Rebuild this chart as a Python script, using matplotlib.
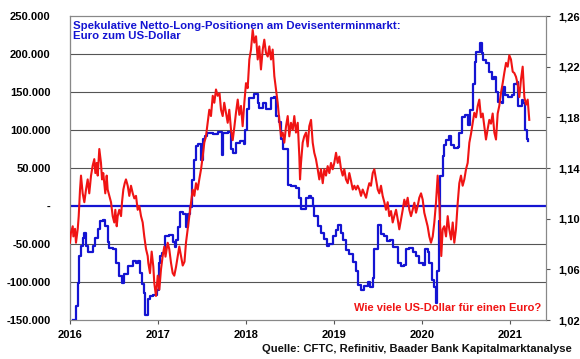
import numpy as np
import matplotlib
matplotlib.use("Agg")
import matplotlib.pyplot as plt
from matplotlib.ticker import FuncFormatter, FixedLocator

plt.rcParams['font.family'] = ['Liberation Sans', 'DejaVu Sans']

# speculative net long positions (contracts), weekly, x in decimal years
pos_t = [2016.031, 2016.068, 2016.088, 2016.106, 2016.125, 2016.144, 2016.163, 2016.182,
         2016.201, 2016.227, 2016.258, 2016.288, 2016.315, 2016.341, 2016.372, 2016.401,
         2016.428, 2016.447, 2016.485, 2016.523, 2016.560, 2016.588, 2016.617, 2016.656,
         2016.693, 2016.713, 2016.750, 2016.769, 2016.795, 2016.818, 2016.838, 2016.852,
         2016.883, 2016.909, 2016.947, 2016.985, 2017.006, 2017.023, 2017.045, 2017.074,
         2017.128, 2017.167, 2017.193, 2017.210, 2017.231, 2017.250, 2017.288, 2017.318,
         2017.341, 2017.364, 2017.383, 2017.413, 2017.432, 2017.458, 2017.489, 2017.511,
         2017.534, 2017.562, 2017.625, 2017.685, 2017.724, 2017.742, 2017.799, 2017.830,
         2017.852, 2017.886, 2017.932, 2017.972, 2017.989, 2018.006, 2018.038, 2018.094,
         2018.133, 2018.151, 2018.190, 2018.227, 2018.267, 2018.284, 2018.322, 2018.341,
         2018.378, 2018.398, 2018.417, 2018.455, 2018.474, 2018.511, 2018.568, 2018.599,
         2018.625, 2018.662, 2018.682, 2018.719, 2018.739, 2018.758, 2018.776, 2018.815,
         2018.852, 2018.890, 2018.917, 2018.947, 2018.985, 2019.023, 2019.051, 2019.080,
         2019.102, 2019.136, 2019.174, 2019.213, 2019.250, 2019.269, 2019.307, 2019.344,
         2019.383, 2019.409, 2019.440, 2019.458, 2019.497, 2019.534, 2019.572, 2019.602,
         2019.636, 2019.674, 2019.724, 2019.761, 2019.795, 2019.822, 2019.856, 2019.894,
         2019.932, 2019.969, 2020.008, 2020.038, 2020.064, 2020.083, 2020.114, 2020.140,
         2020.156, 2020.174, 2020.193, 2020.208, 2020.235, 2020.253, 2020.278, 2020.310,
         2020.330, 2020.364, 2020.406, 2020.426, 2020.451, 2020.489, 2020.526, 2020.545,
         2020.576, 2020.597, 2020.619, 2020.640, 2020.659, 2020.678, 2020.697, 2020.731,
         2020.767, 2020.790, 2020.813, 2020.843, 2020.867, 2020.906, 2020.924, 2020.943,
         2020.981, 2021.019, 2021.049, 2021.074, 2021.094, 2021.133, 2021.151, 2021.170,
         2021.190, 2021.201]
pos_k = [-150, -131, -101, -66, -53, -42, -35, -53, -61, -60, -53, -42, -30, -20, -18, -26,
         -48, -55, -57, -75, -92, -101, -90, -79, -79, -72, -75, -72, -88, -103, -114, -143,
         -122, -118, -117, -110, -75, -66, -62, -40, -38, -48, -54, -45, -27, -8, -10, -28,
         -10, -1, 34, 61, 79, 82, 60, 88, 92, 96, 95, 98, 67, 96, 98, 75, 70, 83, 86, 82,
         100, 128, 142, 148, 136, 129, 136, 127, 128, 142, 143, 118, 110, 88, 75, 75, 28, 26,
         24, 11, -4, -4, 11, 13, 11, 0, -13, -26, -35, -44, -52, -50, -40, -31, -25, -35,
         -45, -58, -63, -74, -85, -104, -110, -105, -100, -106, -95, -57, -25, -37, -40, -46,
         -45, -54, -75, -79, -78, -56, -55, -61, -66, -75, -77, -56, -60, -75, -97, -106,
         -128, -85, -20, 39, 66, 80, 87, 92, 80, 76, 77, 96, 117, 120, 106, 126, 160, 190,
         202, 203, 214, 201, 192, 188, 176, 167, 170, 150, 137, 135, 157, 146, 144, 146, 160,
         163, 132, 139, 136, 100, 88, 85]

# EUR/USD exchange rate
fx_t = [2016.000, 2016.011, 2016.031, 2016.038, 2016.057, 2016.068, 2016.088, 2016.099,
        2016.114, 2016.125, 2016.144, 2016.163, 2016.182, 2016.201, 2016.219, 2016.239,
        2016.258, 2016.276, 2016.288, 2016.303, 2016.315, 2016.333, 2016.352, 2016.364,
        2016.378, 2016.401, 2016.417, 2016.428, 2016.447, 2016.466, 2016.485, 2016.503,
        2016.515, 2016.531, 2016.542, 2016.560, 2016.580, 2016.591, 2016.606, 2016.622,
        2016.636, 2016.656, 2016.674, 2016.693, 2016.713, 2016.731, 2016.750, 2016.769,
        2016.788, 2016.807, 2016.826, 2016.844, 2016.864, 2016.883, 2016.890, 2016.909,
        2016.928, 2016.947, 2016.958, 2016.977, 2016.997, 2017.015, 2017.034, 2017.053,
        2017.072, 2017.085, 2017.110, 2017.128, 2017.148, 2017.167, 2017.185, 2017.205,
        2017.224, 2017.242, 2017.261, 2017.281, 2017.301, 2017.318, 2017.338, 2017.356,
        2017.375, 2017.394, 2017.413, 2017.432, 2017.451, 2017.469, 2017.489, 2017.508,
        2017.526, 2017.545, 2017.565, 2017.583, 2017.602, 2017.622, 2017.640, 2017.659,
        2017.678, 2017.699, 2017.716, 2017.735, 2017.753, 2017.773, 2017.792, 2017.810,
        2017.830, 2017.849, 2017.867, 2017.886, 2017.906, 2017.924, 2017.943, 2017.962,
        2017.981, 2018.000, 2018.019, 2018.038, 2018.057, 2018.076, 2018.094, 2018.114,
        2018.133, 2018.151, 2018.170, 2018.190, 2018.208, 2018.227, 2018.247, 2018.265,
        2018.284, 2018.303, 2018.322, 2018.341, 2018.360, 2018.378, 2018.398, 2018.417,
        2018.435, 2018.455, 2018.474, 2018.492, 2018.511, 2018.531, 2018.549, 2018.568,
        2018.588, 2018.606, 2018.614, 2018.625, 2018.644, 2018.662, 2018.682, 2018.701,
        2018.719, 2018.739, 2018.758, 2018.776, 2018.795, 2018.815, 2018.833, 2018.852,
        2018.872, 2018.890, 2018.909, 2018.928, 2018.947, 2018.966, 2018.985, 2019.003,
        2019.023, 2019.042, 2019.060, 2019.080, 2019.099, 2019.117, 2019.136, 2019.156,
        2019.174, 2019.193, 2019.213, 2019.231, 2019.250, 2019.269, 2019.288, 2019.307,
        2019.326, 2019.344, 2019.364, 2019.383, 2019.401, 2019.420, 2019.440, 2019.458,
        2019.477, 2019.497, 2019.515, 2019.534, 2019.553, 2019.572, 2019.591, 2019.610,
        2019.628, 2019.648, 2019.667, 2019.685, 2019.705, 2019.724, 2019.742, 2019.761,
        2019.781, 2019.799, 2019.818, 2019.837, 2019.856, 2019.875, 2019.894, 2019.913,
        2019.932, 2019.951, 2019.969, 2019.989, 2020.008, 2020.026, 2020.045, 2020.064,
        2020.083, 2020.102, 2020.122, 2020.140, 2020.159, 2020.178, 2020.197, 2020.208,
        2020.219, 2020.235, 2020.253, 2020.273, 2020.292, 2020.310, 2020.330, 2020.349,
        2020.367, 2020.386, 2020.406, 2020.424, 2020.443, 2020.462, 2020.481, 2020.500,
        2020.519, 2020.538, 2020.557, 2020.576, 2020.594, 2020.614, 2020.633, 2020.651,
        2020.670, 2020.690, 2020.708, 2020.727, 2020.747, 2020.765, 2020.784, 2020.803,
        2020.822, 2020.841, 2020.860, 2020.878, 2020.898, 2020.917, 2020.935, 2020.955,
        2020.974, 2020.992, 2021.011, 2021.031, 2021.049, 2021.068, 2021.088, 2021.106,
        2021.125, 2021.144, 2021.163, 2021.182, 2021.201, 2021.219]
fx = [1.081, 1.089, 1.094, 1.086, 1.092, 1.081, 1.092, 1.102, 1.123, 1.134, 1.120, 1.113,
      1.123, 1.131, 1.120, 1.134, 1.142, 1.147, 1.136, 1.144, 1.134, 1.155, 1.144, 1.131,
      1.136, 1.120, 1.134, 1.123, 1.118, 1.113, 1.102, 1.097, 1.107, 1.094, 1.102, 1.107,
      1.102, 1.113, 1.123, 1.128, 1.131, 1.126, 1.118, 1.126, 1.120, 1.116, 1.118, 1.107,
      1.110, 1.102, 1.097, 1.086, 1.076, 1.0705, 1.065, 1.057, 1.074, 1.062, 1.049, 1.039,
      1.055, 1.044, 1.060, 1.0705, 1.078, 1.070, 1.081, 1.076, 1.065, 1.057, 1.055, 1.062,
      1.0705, 1.078, 1.0705, 1.063, 1.066, 1.081, 1.092, 1.102, 1.113, 1.123, 1.118, 1.128,
      1.123, 1.131, 1.139, 1.149, 1.160, 1.165, 1.176, 1.186, 1.181, 1.197, 1.1915, 1.202,
      1.197, 1.199, 1.186, 1.181, 1.1915, 1.1836, 1.1757, 1.186, 1.170, 1.162, 1.172, 1.1836,
      1.194, 1.182, 1.189, 1.173, 1.1915, 1.207, 1.203, 1.2257, 1.2335, 1.249, 1.239, 1.244,
      1.2257, 1.236, 1.2178, 1.2335, 1.2413, 1.231, 1.228, 1.236, 1.2257, 1.2335, 1.2125,
      1.202, 1.1915, 1.178, 1.165, 1.168, 1.160, 1.173, 1.181, 1.165, 1.1757, 1.170, 1.181,
      1.168, 1.1757, 1.149, 1.131, 1.144, 1.160, 1.165, 1.168, 1.157, 1.173, 1.178, 1.160,
      1.152, 1.147, 1.139, 1.131, 1.139, 1.128, 1.139, 1.134, 1.1415, 1.136, 1.144, 1.139,
      1.144, 1.152, 1.144, 1.149, 1.139, 1.134, 1.139, 1.131, 1.128, 1.136, 1.130, 1.123,
      1.126, 1.123, 1.126, 1.123, 1.118, 1.123, 1.120, 1.1165, 1.123, 1.128, 1.126, 1.136,
      1.139, 1.131, 1.123, 1.120, 1.126, 1.118, 1.113, 1.107, 1.113, 1.102, 1.106, 1.097,
      1.102, 1.107, 1.0995, 1.0916, 1.099, 1.107, 1.115, 1.110, 1.1165, 1.107, 1.102, 1.107,
      1.1126, 1.1047, 1.110, 1.1165, 1.120, 1.115, 1.1047, 1.0995, 1.094, 1.086, 1.081,
      1.086, 1.097, 1.1126, 1.134, 1.1126, 1.0916, 1.0705, 1.0916, 1.094, 1.086, 1.102,
      1.0916, 1.0836, 1.097, 1.081, 1.0916, 1.1126, 1.128, 1.134, 1.126, 1.131, 1.139,
      1.144, 1.160, 1.167, 1.1757, 1.1836, 1.180, 1.189, 1.194, 1.180, 1.183, 1.173, 1.1625,
      1.171, 1.178, 1.175, 1.183, 1.168, 1.1625, 1.183, 1.189, 1.1995, 1.207, 1.215, 1.223,
      1.220, 1.229, 1.2257, 1.216, 1.215, 1.212, 1.206, 1.196, 1.210, 1.220, 1.196, 1.190,
      1.194, 1.178]

years = [2016, 2017, 2018, 2019, 2020, 2021]
left_ticks = [-150000, -100000, -50000, 0, 50000, 100000, 150000, 200000, 250000]
right_ticks = [1.02, 1.06, 1.10, 1.14, 1.18, 1.22, 1.26]

BLUE = '#1414d2'
RED = '#f01414'
GRID = '#555555'

fig = plt.figure(figsize=(5.8, 3.59), dpi=100)
ax = fig.add_axes([70 / 580, 1 - 320 / 359, 476 / 580, 304 / 359])
ax2 = ax.twinx()

ax.set_xlim(2016, 2021 + 36 / 88)
ax.set_ylim(-150000, 250000)
ax2.set_ylim(1.02, 1.26)

for v in left_ticks[1:-1]:
    if v != 0:
        ax.axhline(v, color=GRID, lw=0.8, zorder=1)
ax.axhline(0, color=BLUE, lw=1.6, zorder=2)

ax.step(pos_t, np.array(pos_k) * 1000, where='post', color=BLUE, lw=1.6, zorder=3)
ax2.plot(fx_t, fx, color=RED, lw=1.5, zorder=3)

ax.yaxis.set_major_locator(FixedLocator(left_ticks))
ax.yaxis.set_major_formatter(FuncFormatter(
    lambda v, p: '-' if v == 0 else f"{int(v):,}".replace(',', '.')))
ax2.yaxis.set_major_locator(FixedLocator(right_ticks))
ax2.yaxis.set_major_formatter(FuncFormatter(lambda v, p: f"{v:.2f}".replace('.', ',')))
ax.xaxis.set_major_locator(FixedLocator(years))
ax.xaxis.set_major_formatter(FuncFormatter(lambda v, p: str(int(round(v)))))

ax.tick_params(axis='y', length=0, pad=14, labelsize=8)
ax2.tick_params(axis='y', length=3, pad=6, labelsize=8, color=GRID)
ax.tick_params(axis='x', length=3, pad=4, labelsize=8, color=GRID)
for lbl in ax.get_yticklabels() + ax.get_xticklabels() + ax2.get_yticklabels():
    lbl.set_fontweight('bold')

for a in (ax, ax2):
    for s in a.spines.values():
        s.set_color('#888888')
        s.set_linewidth(0.8)
ax.spines['left'].set_color('#333333')

ax.text(0.006, 0.985, 'Spekulative Netto-Long-Positionen am Devisenterminmarkt:\nEuro zum US-Dollar',
        transform=ax.transAxes, ha='left', va='top', color=BLUE, fontsize=8.2,
        fontweight='bold', linespacing=1.0, zorder=5)
ax.text(0.99, 0.04, 'Wie viele US-Dollar für einen Euro?', transform=ax.transAxes,
        ha='right', va='center', color=RED, fontsize=8, fontweight='bold', zorder=5)
fig.text(572 / 580, 1 - 349 / 359, 'Quelle: CFTC, Refinitiv, Baader Bank Kapitalmarktanalyse',
         ha='right', va='center', fontsize=8.1, fontweight='bold', color='#111111')

fig.savefig('out.png', dpi=100)
